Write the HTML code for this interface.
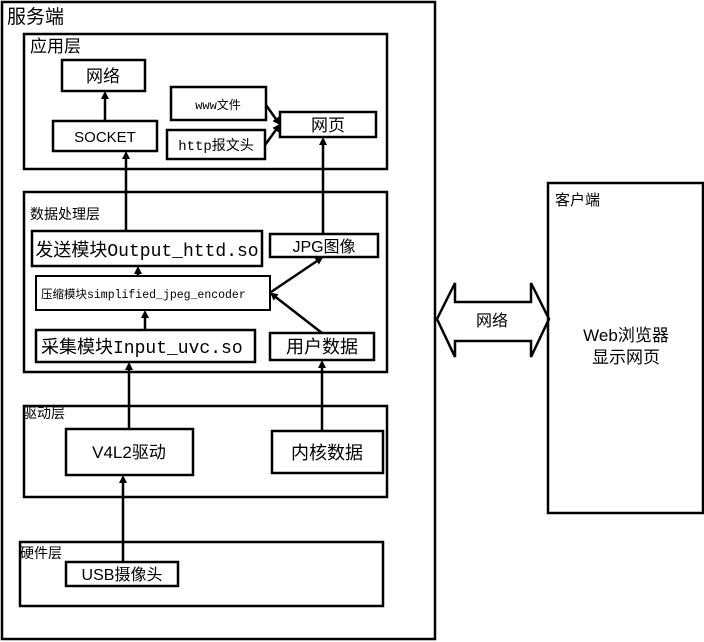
<!DOCTYPE html>
<html><head><meta charset="utf-8"><style>
html,body{margin:0;padding:0;background:#fff;width:704px;height:642px;overflow:hidden}
text{font-family:"Liberation Sans","Noto Sans CJK SC",sans-serif;fill:#000}
.m{font-family:"Liberation Mono","Noto Sans CJK SC",monospace}
</style></head><body>
<svg width="704" height="642" viewBox="0 0 704 642" xmlns="http://www.w3.org/2000/svg">
<defs><marker id="a" markerWidth="8" markerHeight="8" refX="4" refY="4" orient="auto" markerUnits="userSpaceOnUse"><path d="M0,0 L8,4 L0,8 z" fill="#000"/></marker></defs>
<g fill="none" stroke="#000" stroke-width="2.5">
<rect x="2" y="2" width="433" height="637"/>
<rect x="24" y="34" width="363" height="135"/>
<rect x="62" y="60" width="83" height="31"/>
<rect x="53" y="121" width="104" height="30"/>
<rect x="171" y="87" width="95" height="33"/>
<rect x="167" y="130" width="98" height="29"/>
<rect x="280" y="112" width="96" height="25"/>
<rect x="24" y="192" width="363" height="180"/>
<rect x="32" y="231" width="230" height="35"/>
<rect x="270" y="234" width="108" height="23"/>
<rect x="36" y="276" width="234" height="34" stroke-width="2"/>
<rect x="36" y="330" width="219" height="32"/>
<rect x="270" y="333" width="104" height="27"/>
<rect x="24" y="406" width="363" height="91"/>
<rect x="66" y="429" width="127" height="46"/>
<rect x="272" y="431" width="111" height="42"/>
<rect x="20" y="542" width="363" height="64"/>
<rect x="66" y="562" width="112" height="24"/>
<rect x="548" y="183" width="155" height="330"/>
<polygon points="437,319 455,283 455,302 531,302 531,283 549,319 531,357 531,341 455,341 455,357"/>
</g>
<g stroke="#000" stroke-width="2.5" marker-end="url(#a)">
<line x1="105" y1="121" x2="105" y2="95"/>
<line x1="126" y1="231" x2="126" y2="155"/>
<line x1="323" y1="234" x2="323" y2="141"/>
<line x1="266" y1="105" x2="278" y2="122"/>
<line x1="265" y1="145" x2="278" y2="127"/>
<line x1="138" y1="276" x2="138" y2="270"/>
<line x1="145" y1="330" x2="145" y2="314"/>
<line x1="322" y1="333" x2="273" y2="295"/>
<line x1="271" y1="292" x2="320" y2="259"/>
<line x1="129" y1="429" x2="129" y2="366"/>
<line x1="322" y1="431" x2="322" y2="364"/>
<line x1="123" y1="562" x2="123" y2="479"/>
</g>
<text x="7" y="23" font-size="19">服务端</text>
<text x="30" y="52" font-size="17">应用层</text>
<text x="103" y="82" font-size="17" text-anchor="middle">网络</text>
<text x="105" y="142" font-size="15" text-anchor="middle">SOCKET</text>
<text x="218" y="109" font-size="12" text-anchor="middle" class="m">www文件</text>
<text x="216" y="150" font-size="14" text-anchor="middle" class="m">http报文头</text>
<text x="328" y="131" font-size="17" text-anchor="middle">网页</text>
<text x="30" y="219" font-size="14">数据处理层</text>
<text x="147" y="256" font-size="18" text-anchor="middle" class="m">发送模块Output_httd.so</text>
<text x="324" y="252" font-size="16" text-anchor="middle">JPG图像</text>
<text x="41" y="298" font-size="11.5" class="m">压缩模块simplified_jpeg_encoder</text>
<text x="41" y="353" font-size="18" class="m">采集模块Input_uvc.so</text>
<text x="322" y="353" font-size="18" text-anchor="middle">用户数据</text>
<text x="23" y="418" font-size="14">驱动层</text>
<text x="129" y="458" font-size="17" text-anchor="middle">V4L2驱动</text>
<text x="327" y="459" font-size="18" text-anchor="middle">内核数据</text>
<text x="20" y="558" font-size="14">硬件层</text>
<text x="122" y="580" font-size="16" text-anchor="middle">USB摄像头</text>
<text x="555" y="205" font-size="15">客户端</text>
<text x="492" y="326" font-size="16" text-anchor="middle">网络</text>
<text x="626" y="341" font-size="17" text-anchor="middle">Web浏览器</text>
<text x="626" y="363" font-size="17" text-anchor="middle">显示网页</text>
</svg>
</body></html>
